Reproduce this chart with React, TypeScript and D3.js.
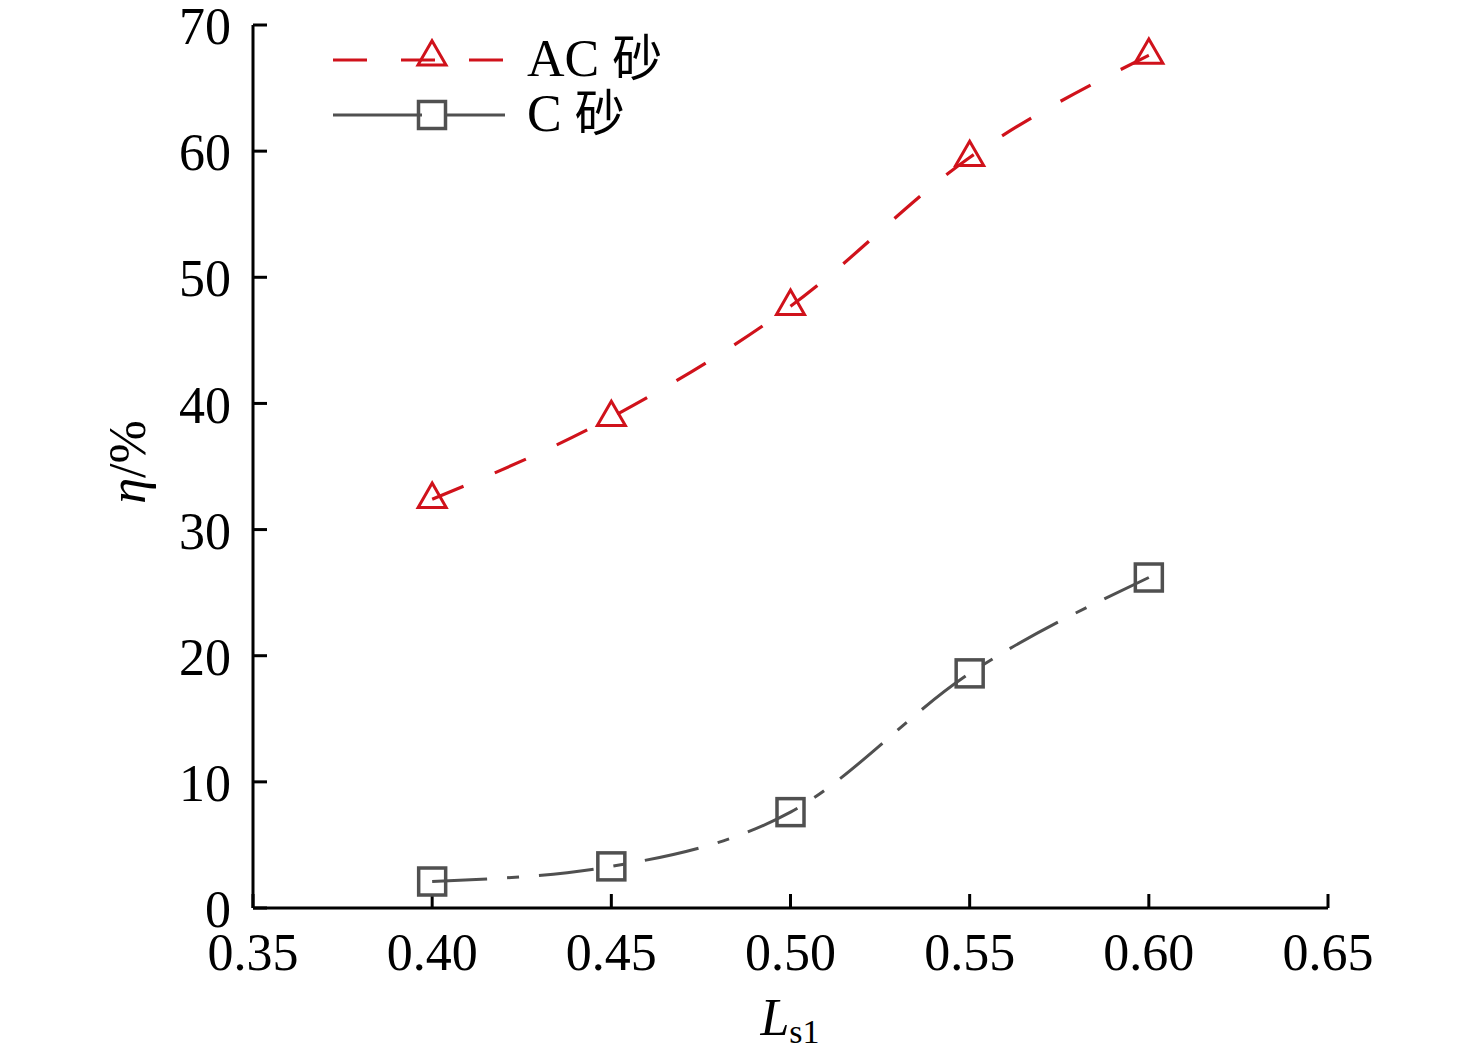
import React from "react";
import * as d3 from "d3";

const xValues = [0.4, 0.45, 0.5, 0.55, 0.6];
const acValues = [32.4, 38.9, 47.7, 59.5, 67.6];
const cValues = [2.1, 3.3, 7.6, 18.6, 26.2];
const xTicks = [0.35, 0.4, 0.45, 0.5, 0.55, 0.6, 0.65];
const yTicks = [0, 10, 20, 30, 40, 50, 60, 70];

const W = 1476;
const H = 1059;
const RED = "#d0121b";
const GREY = "#505050";
const FONT = "'Liberation Serif', 'Times New Roman', serif";
const CJK = "'Noto Sans CJK SC', sans-serif";

export default function App() {
  const x = d3.scaleLinear().domain([0.35, 0.65]).range([253, 1328]);
  const y = d3.scaleLinear().domain([0, 70]).range([908, 25]);
  const line = d3
    .line<number>()
    .x((_, i) => x(xValues[i]))
    .y((d) => y(d))
    .curve(d3.curveMonotoneX);
  const tri = d3.symbol(d3.symbolTriangle, 340)();
  const sq = 27;

  return (
    <svg width={W} height={H} style={{ position: "absolute", left: 0, top: 0, background: "#fff" }}>
      <rect width={W} height={H} fill="#fff" />
      {/* axes */}
      <line x1={x(0.35)} x2={x(0.35)} y1={y(70)} y2={y(0)} stroke="#000" strokeWidth={3} />
      <line x1={x(0.35)} x2={x(0.65)} y1={y(0)} y2={y(0)} stroke="#000" strokeWidth={3} />
      {yTicks.map((t) => (
        <g key={"y" + t}>
          <line x1={x(0.35)} x2={x(0.35) + 14} y1={y(t)} y2={y(t)} stroke="#000" strokeWidth={3} />
          <text x={x(0.35) - 22} y={y(t) + 2} dy="0.33em" textAnchor="end" fontFamily={FONT} fontSize={52}>
            {t}
          </text>
        </g>
      ))}
      {xTicks.map((t) => (
        <g key={"x" + t}>
          <line x1={x(t)} x2={x(t)} y1={y(0)} y2={y(0) - 14} stroke="#000" strokeWidth={3} />
          <text x={x(t)} y={y(0) + 62} textAnchor="middle" fontFamily={FONT} fontSize={52}>
            {t.toFixed(2)}
          </text>
        </g>
      ))}
      {/* axis titles */}
      <text x={790} y={1035} textAnchor="middle" fontFamily={FONT} fontSize={52}>
        <tspan fontStyle="italic">L</tspan>
        <tspan fontSize={34} dy={8}>s1</tspan>
      </text>
      <text
        transform="translate(145,462) rotate(-90)"
        textAnchor="middle"
        fontFamily={FONT}
        fontSize={52}
      >
        <tspan fontStyle="italic">η</tspan>/%
      </text>
      {/* series */}
      <path d={line(cValues) || ""} fill="none" stroke={GREY} strokeWidth={3} strokeDasharray="55 20 12 20" />
      <path d={line(acValues) || ""} fill="none" stroke={RED} strokeWidth={3.2} strokeDasharray="34 34" />
      {acValues.map((v, i) => (
        <path key={"a" + i} d={tri || ""} transform={`translate(${x(xValues[i])},${y(v)})`} fill="none" stroke={RED} strokeWidth={3} />
      ))}
      {cValues.map((v, i) => (
        <rect key={"c" + i} x={x(xValues[i]) - sq / 2} y={y(v) - sq / 2} width={sq} height={sq} fill="none" stroke={GREY} strokeWidth={3.5} />
      ))}
      {/* legend */}
      <line x1={333} x2={505} y1={60} y2={60} stroke={RED} strokeWidth={3.2} strokeDasharray="34 34" />
      <path d={tri || ""} transform="translate(432,57)" fill="none" stroke={RED} strokeWidth={3} />
      <text x={527} y={76} fontFamily={FONT} fontSize={52}>
        {"AC "}
        <tspan fontFamily={CJK} fontSize={50}>砂</tspan>
      </text>
      <line x1={333} x2={422} y1={115} y2={115} stroke={GREY} strokeWidth={3} />
      <line x1={446} x2={505} y1={115} y2={115} stroke={GREY} strokeWidth={3} />
      <rect x={432 - sq / 2} y={115 - sq / 2} width={sq} height={sq} fill="none" stroke={GREY} strokeWidth={3.5} />
      <text x={527} y={131} fontFamily={FONT} fontSize={52}>
        {"C "}
        <tspan fontFamily={CJK} fontSize={50}>砂</tspan>
      </text>
    </svg>
  );
}
